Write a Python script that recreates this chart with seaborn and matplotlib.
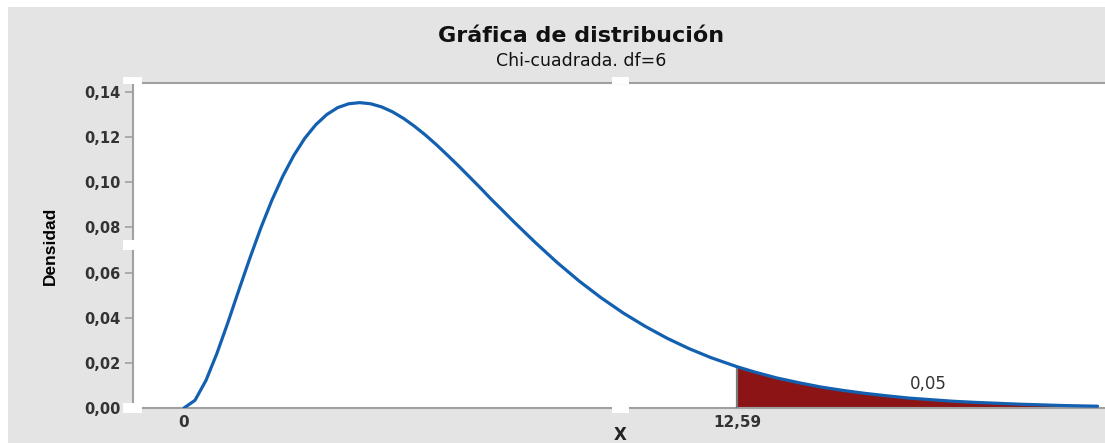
import numpy as np
import pandas as pd
import matplotlib
matplotlib.use("Agg")
import matplotlib.pyplot as plt
import seaborn as sns
from matplotlib.patches import Rectangle
from matplotlib.ticker import FuncFormatter

# Values (chi-square, df=6)
x_vals = [0.0, 0.25, 0.5, 0.75, 1.0, 1.25, 1.5, 1.75, 2.0, 2.25, 2.5, 2.75,
          3.0, 3.25, 3.5, 3.75, 4.0, 4.25, 4.5, 4.75, 5.0, 5.25, 5.5, 5.75,
          6.0, 6.25, 6.5, 6.75, 7.0, 7.25, 7.5, 8.0, 8.5, 9.0, 9.5, 10.0,
          10.5, 11.0, 11.5, 12.0, 12.59, 13.0, 13.5, 14.0, 14.5, 15.0, 15.5,
          16.0, 16.5, 17.0, 17.5, 18.0, 18.5, 19.0, 19.5, 20.0, 20.5, 20.8]
dens = [0.0, 0.0034, 0.0122, 0.0242, 0.0379, 0.0523, 0.0664, 0.0798, 0.0920,
        0.1027, 0.1119, 0.1195, 0.1255, 0.1300, 0.1331, 0.1348, 0.1353,
        0.1348, 0.1334, 0.1312, 0.1283, 0.1248, 0.1209, 0.1166, 0.1120,
        0.1073, 0.1024, 0.0975, 0.0924, 0.0876, 0.0827, 0.0733, 0.0644,
        0.0562, 0.0488, 0.0421, 0.0362, 0.0309, 0.0263, 0.0223, 0.0183,
        0.0159, 0.0133, 0.0112, 0.0093, 0.0078, 0.0065, 0.0054, 0.0044,
        0.0037, 0.0030, 0.0025, 0.0021, 0.0017, 0.0014, 0.0011, 0.0009,
        0.0008]
crit = 12.59
tail_label = "0,05"
y_ticks = [0.00, 0.02, 0.04, 0.06, 0.08, 0.10, 0.12, 0.14]
x_ticks = [0, crit]
x_ticklabels = ["0", "12,59"]

df = pd.DataFrame({"x": x_vals, "d": dens})
tail = df[df["x"] >= crit]

sns.set_style("white")
plt.rcParams["font.family"] = ["DejaVu Sans"]

W, H = 1105, 443
fig = plt.figure(figsize=(W / 100, H / 100), dpi=100, facecolor="white")
# grey panel behind everything
fig.patches.append(Rectangle((8 / W, 0), 1, 1 - 7 / H, transform=fig.transFigure,
                             facecolor="#e4e4e4", edgecolor="none", zorder=-10))

ax = fig.add_axes([133 / W, 1 - 408 / H, 1 - 133 / W, (408 - 83) / H])
ax.set_facecolor("white")

ax.fill_between(tail["x"], 0, tail["d"], color="#8c1414", lw=0, zorder=2)
ax.vlines(crit, 0, tail["d"].iloc[0], color="#7a7a7a", lw=1.6, zorder=3)
sns.lineplot(data=df, x="x", y="d", ax=ax, color="#1460b0", lw=2.3, zorder=4)

ax.text(16.94, 0.0106, tail_label, ha="center", va="center",
        fontsize=12, color="#333333")

ax.set_xlim(-1.161, 20.97)
ax.set_ylim(0, 0.144)
ax.set_yticks(y_ticks)
ax.yaxis.set_major_formatter(FuncFormatter(lambda v, p: f"{v:.2f}".replace(".", ",")))
ax.set_xticks(x_ticks)
ax.set_xticklabels(x_ticklabels)
ax.tick_params(axis="y", length=6, width=1.2, color="#a0a0a0", pad=3,
               labelsize=10.5, labelcolor="#333333", left=True)
ax.tick_params(axis="x", length=0, pad=5, labelsize=11, labelcolor="#333333")
for lbl in ax.get_yticklabels() + ax.get_xticklabels():
    lbl.set_fontweight("bold")

for side in ["left", "bottom", "top"]:
    ax.spines[side].set_visible(True)
    ax.spines[side].set_color("#a0a0a0")
    ax.spines[side].set_linewidth(1.5)
ax.spines["right"].set_visible(False)
ax.set_xlabel("")
ax.set_ylabel("")

fig.text(50 / W, 1 - 246 / H, "Densidad", rotation=90, ha="center", va="center",
         fontsize=12.5, fontweight="bold", family=["Liberation Sans", "DejaVu Sans"],
         color="black")
fig.text(620 / W, 1 - 426 / H, "X", ha="center", va="top", fontsize=12,
         fontweight="bold", color="#222222")
fig.text(581 / W, 1 - 36 / H, "Gráfica de distribución", ha="center", va="center",
         fontsize=16, fontweight="bold", color="#111111")
fig.text(581 / W, 1 - 61 / H, "Chi-cuadrada. df=6", ha="center", va="center",
         fontsize=12.5, color="#111111")

# small white notches on the axis lines, as in the reference
for (x0, y0, w, h) in [(123, 77, 19, 7), (123, 240, 19, 10), (123, 403, 19, 10),
                       (612, 406, 17, 7), (612, 77, 17, 7)]:
    fig.patches.append(Rectangle((x0 / W, 1 - (y0 + h) / H), w / W, h / H,
                                 transform=fig.transFigure, facecolor="white",
                                 edgecolor="none", zorder=10))

fig.savefig("out.png", dpi=100, facecolor=fig.get_facecolor())
